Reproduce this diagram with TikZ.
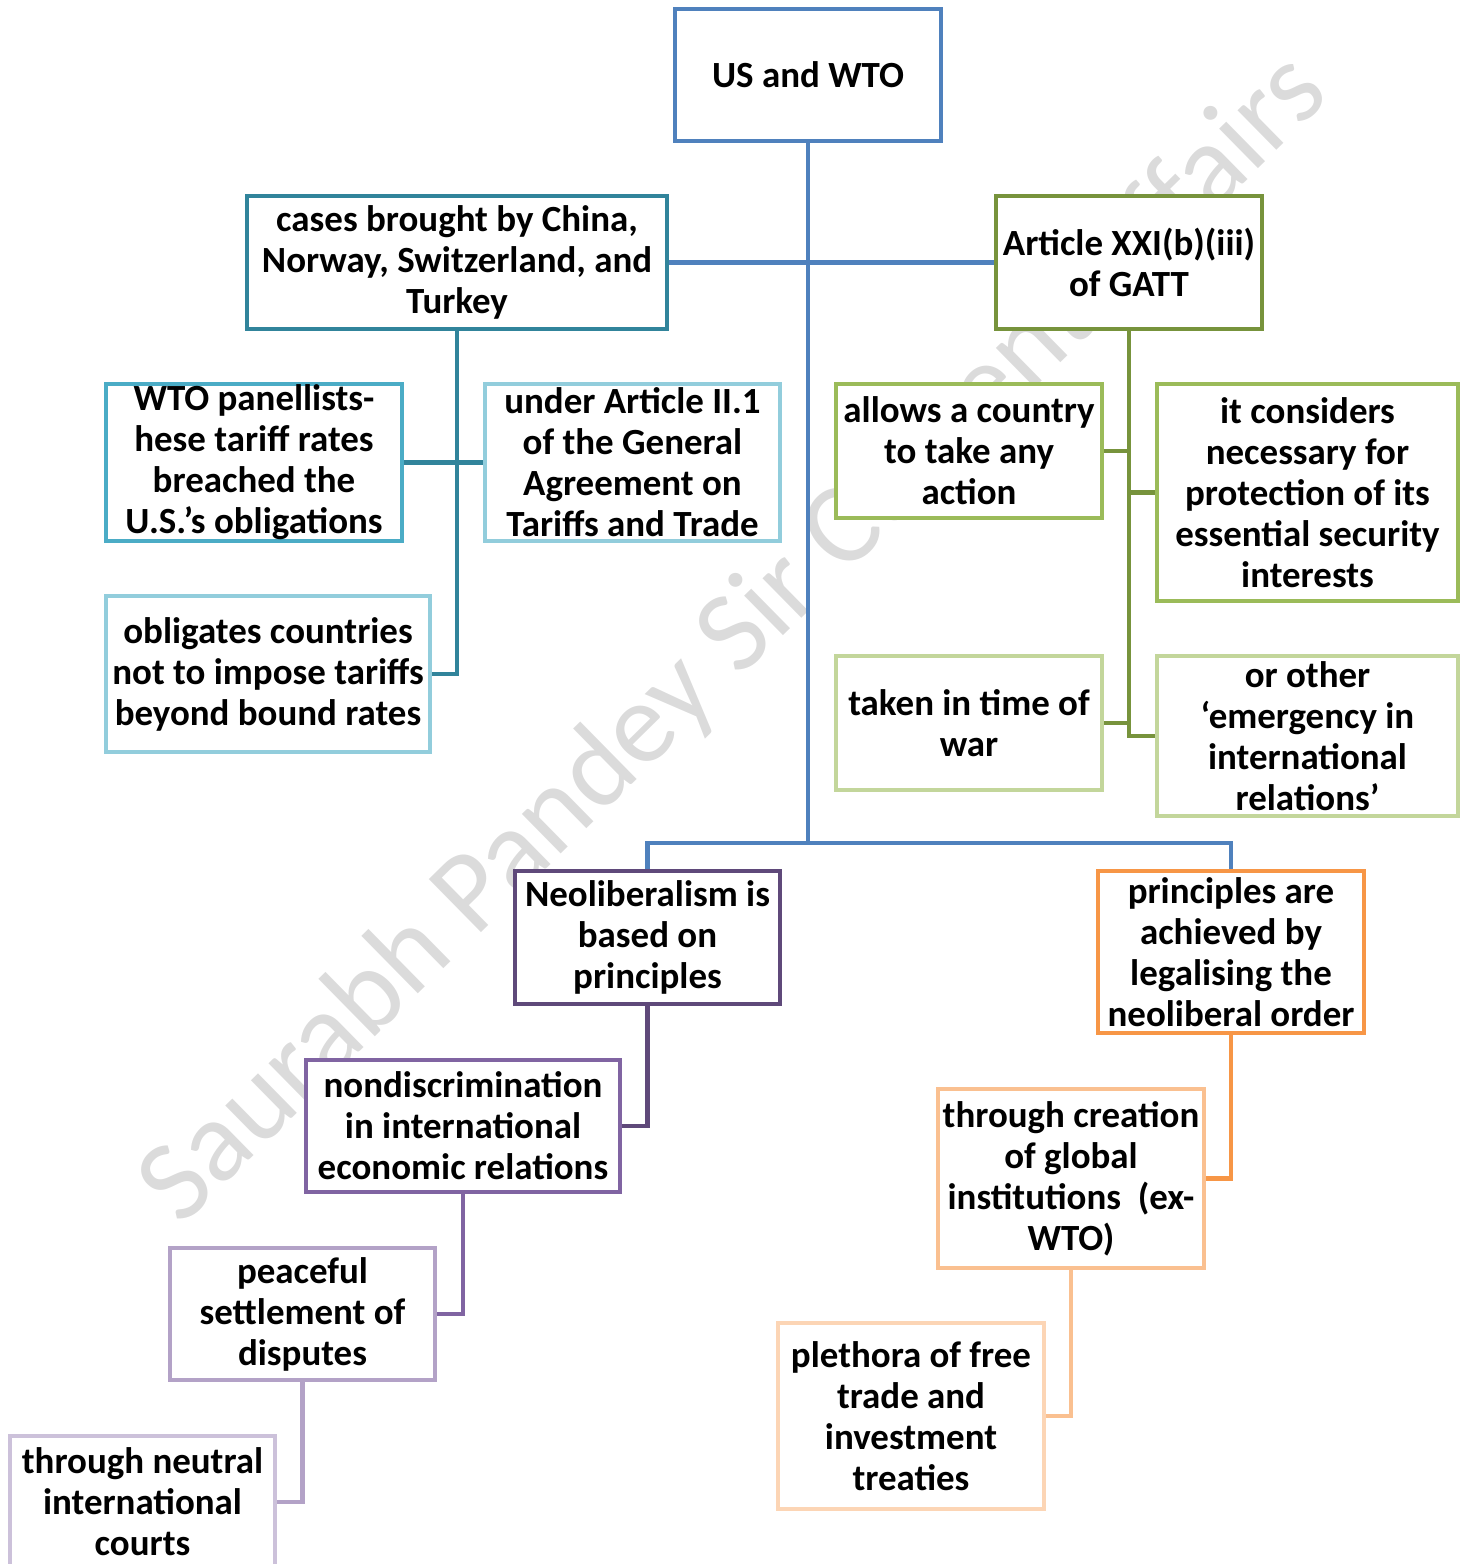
\documentclass[tikz,border=0pt]{standalone}
\usepackage{fontspec}
\setmainfont{Carlito}
\definecolor{cBlue}{HTML}{4F81BD}
\definecolor{cTeal}{HTML}{31849B}
\definecolor{cAqua}{HTML}{4BACC6}
\definecolor{cSky}{HTML}{92CDDC}
\definecolor{cOlive}{HTML}{77933C}
\definecolor{cGreen}{HTML}{9BBB59}
\definecolor{cLime}{HTML}{C3D69B}
\definecolor{cPlum}{HTML}{5F497A}
\definecolor{cPurple}{HTML}{8064A2}
\definecolor{cLilac}{HTML}{B3A2C7}
\definecolor{cMauve}{HTML}{CCC1DA}
\definecolor{cOrange}{HTML}{F79646}
\definecolor{cPeach}{HTML}{FAC090}
\definecolor{cCream}{HTML}{FCD5B5}
\begin{document}
\begin{tikzpicture}[x=0.01cm,y=-0.01cm,
  box/.style={draw,fill=white,line width=1.3pt,align=center,inner sep=0pt,
    font=\bfseries\fontsize{10.5}{11.66}\selectfont},
  link/.style={line width=1.3pt}]
\useasboundingbox (0,0) rectangle (1465,1564);
% watermark
\node[text=black!14,rotate=44.5,font=\fontsize{33}{36}\selectfont] (mark) at (735,640) {Saurabh Pandey Sir Current Affairs};
% boxes
\node[box,draw=cBlue,minimum width=2.66cm,minimum height=1.32cm] (top) at (808,75) {US and WTO};
\node[box,draw=cTeal,minimum width=4.20cm,minimum height=1.33cm] (cases) at (457,262.5) {cases brought by China,\\Norway, Switzerland, and\\Turkey};
\node[box,draw=cOlive,minimum width=2.66cm,minimum height=1.33cm] (art) at (1129,262.5) {Article XXI(b)(iii)\\of GATT};
\node[box,draw=cAqua,minimum width=2.96cm,minimum height=1.57cm] (panel) at (254,462.5) {WTO panellists-\\hese tariff rates\\breached the\\U.S.’s obligations};
\node[box,draw=cSky,minimum width=2.95cm,minimum height=1.57cm] (under) at (632.5,462.5) {under Article II.1\\of the General\\Agreement on\\Tariffs and Trade};
\node[box,draw=cSky,minimum width=3.24cm,minimum height=1.56cm] (oblig) at (268,674) {obligates countries\\not to impose tariffs\\beyond bound rates};
\node[box,draw=cGreen,minimum width=2.66cm,minimum height=1.34cm] (allows) at (969,451) {allows a country\\to take any\\action};
\node[box,draw=cGreen,minimum width=3.01cm,minimum height=2.17cm] (consid) at (1307.5,492.5) {it considers\\necessary for\\protection of its\\essential security\\interests};
\node[box,draw=cLime,minimum width=2.66cm,minimum height=1.34cm] (war) at (969,723) {taken in time of\\war};
\node[box,draw=cLime,minimum width=3.01cm,minimum height=1.60cm] (emerg) at (1307.5,736) {or other\\‘emergency in\\international\\relations’};
\node[box,draw=cPlum,minimum width=2.65cm,minimum height=1.33cm] (neolib) at (647.5,937.5) {Neoliberalism is\\based on\\principles};
\node[box,draw=cOrange,minimum width=2.66cm,minimum height=1.62cm] (princ) at (1231,952) {principles are\\achieved by\\legalising the\\neoliberal order};
\node[box,draw=cPurple,minimum width=3.14cm,minimum height=1.32cm] (nondisc) at (463,1126) {nondiscrimination\\in international\\economic relations};
\node[box,draw=cPeach,minimum width=2.66cm,minimum height=1.79cm] (creat) at (1071,1178.5) {through creation\\of global\\institutions\ \ (ex-\\WTO)};
\node[box,draw=cLilac,minimum width=2.65cm,minimum height=1.32cm] (peace) at (302.5,1314) {peaceful\\settlement of\\disputes};
\node[box,draw=cCream,minimum width=2.66cm,minimum height=1.86cm] (pleth) at (911,1416) {plethora of free\\trade and\\investment\\treaties};
\node[box,draw=cMauve,minimum width=2.65cm,minimum height=1.32cm] (neutral) at (142.5,1502) {through neutral\\international\\courts};
% connectors
\coordinate (bus) at (808,843);
\draw[link,cBlue] (top.south) -- (bus);
\draw[link,cBlue] (neolib.north) |- (bus) -| (princ.north);
\draw[link,cBlue] (cases.east) -- (art.west);
\draw[link,cTeal] (cases.south) |- (oblig.east);
\draw[link,cTeal] (panel.east) -- (under.west);
\draw[link,cOlive] (art.south) |- (emerg.west);
\draw[link,cOlive] (allows.east) -- (allows.east -| art.south);
\draw[link,cOlive] (consid.west) -- (consid.west -| art.south);
\draw[link,cOlive] (war.east) -- (war.east -| art.south);
\draw[link,cPlum] (neolib.south) |- (nondisc.east);
\draw[link,cPurple] (nondisc.south) |- (peace.east);
\draw[link,cLilac] (peace.south) |- (neutral.east);
\draw[link,cOrange] (princ.south) |- (creat.east);
\draw[link,cPeach] (creat.south) |- (pleth.east);
\end{tikzpicture}
\end{document}
